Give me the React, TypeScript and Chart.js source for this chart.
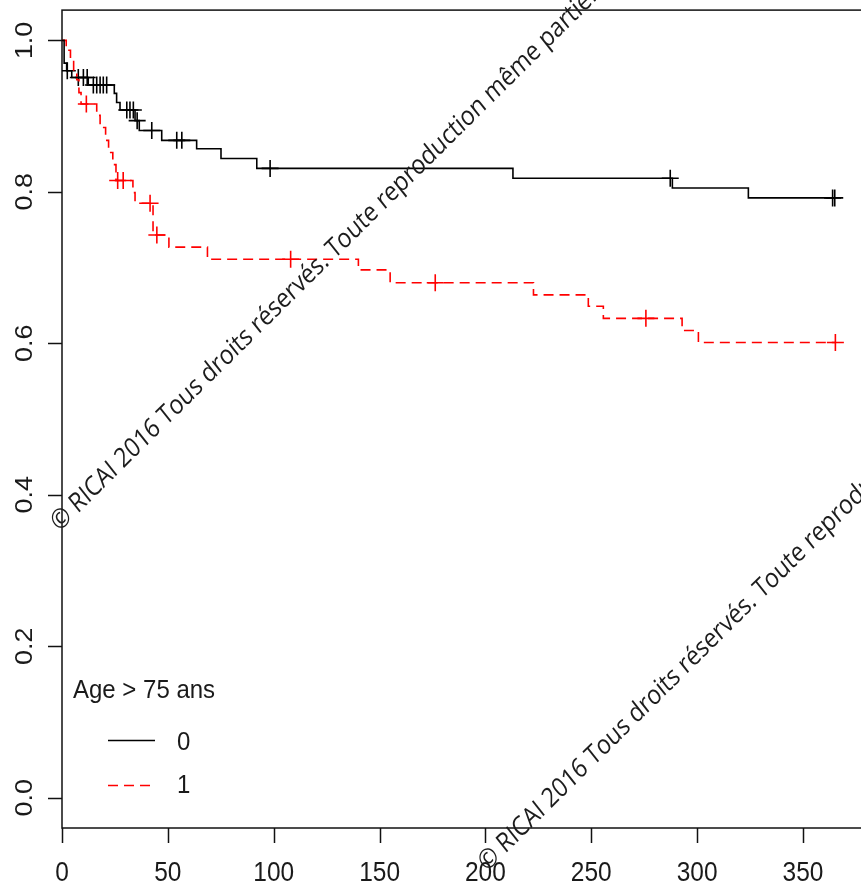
import React, { useEffect, useRef } from "react";
import { Chart, registerables } from "chart.js";

Chart.register(...registerables);

// ---- Data ----
const xTicks = [0, 50, 100, 150, 200, 250, 300, 350];
const xTickLabels = ["0", "50", "100", "150", "200", "250", "300", "350"];
const yTicks = [0, 0.2, 0.4, 0.6, 0.8, 1.0];
const yTickLabels = ["0.0", "0.2", "0.4", "0.6", "0.8", "1.0"];

const legendTitle = "Age > 75 ans";
const groupLabels = ["0", "1"];

// Group 0 (age <= 75): Kaplan-Meier step times / survival
const group0Times = [0, 1, 2.2, 4.6, 12.4, 24.7, 25.8, 27.4, 34.5, 36.5, 47.1, 63.6, 75.1, 92, 213, 288.3, 324.2, 364.5];
const group0Surv = [1, 0.97, 0.96, 0.951, 0.941, 0.93, 0.918, 0.908, 0.894, 0.881, 0.868, 0.857, 0.844, 0.831, 0.818, 0.805, 0.792, 0.792];
const group0Censor = [2.5, 7.7, 10.1, 11.9, 14.8, 16.4, 18, 19.5, 21.1, 30.6, 32.1, 33.7, 35.5, 42.4, 54.2, 56.6, 98.3, 287.3, 364, 365];

// Group 1 (age > 75)
const group1Times = [0, 2, 4, 5.5, 7, 8, 9, 16.4, 18, 20.6, 22, 24, 25.5, 33.5, 34.5, 43, 50.5, 68.7, 140, 155, 222.7, 248.6, 255.7, 292.9, 300.6, 365.3];
const group1Surv = [1, 0.987, 0.974, 0.961, 0.948, 0.931, 0.916, 0.901, 0.885, 0.868, 0.852, 0.836, 0.815, 0.799, 0.785, 0.743, 0.727, 0.711, 0.697, 0.68, 0.664, 0.649, 0.633, 0.617, 0.601, 0.601];
const group1Censor = [11.5, 26.3, 28.9, 41.6, 44.8, 108, 176.3, 275.8, 365.3];

const watermarkText = "© RICAI 2016 Tous droits réservés. Toute reproduction même partielle interdite.";
const watermarkRef = "© RICAI 2016 Tous droits réservés. Toute reproduction même part";

// ---- helpers ----
function stepPoints(times: number[], surv: number[]) {
  return times.map((t, i) => ({ x: t, y: surv[i] }));
}
function survAt(times: number[], surv: number[], t: number) {
  let s = surv[0];
  for (let i = 0; i < times.length; i++) if (times[i] <= t) s = surv[i];
  return s;
}
function censorPoints(times: number[], surv: number[], cens: number[]) {
  return cens.map((t) => ({ x: t, y: survAt(times, surv, t) }));
}

const SY = 1.1;
const WM_SY = 1.12;
const TXT = "Arial, Helvetica, sans-serif";
const WM = "'Open Sans', 'Noto Sans', sans-serif";
const WM_KX = 0.93;
const RED = "#ff0000";
const BLACK = "#000000";

const rPlotPlugin = {
  id: "rPlot",
  beforeDatasetsDraw(chart: any) {
    const { ctx, chartArea: a, scales } = chart;
    const xs = scales.x;
    const ys = scales.y;
    ctx.save();
    ctx.strokeStyle = "#111";
    ctx.lineWidth = 1.5;
    ctx.strokeRect(a.left, a.top, a.right - a.left, a.bottom - a.top);
    ctx.beginPath();
    yTicks.forEach((v) => {
      const y = Math.round(ys.getPixelForValue(v)) + 0.5;
      ctx.moveTo(a.left - 14, y);
      ctx.lineTo(a.left, y);
    });
    xTicks.forEach((v) => {
      const x = Math.round(xs.getPixelForValue(v)) + 0.5;
      ctx.moveTo(x, a.bottom);
      ctx.lineTo(x, a.bottom + 15);
    });
    ctx.stroke();

    ctx.fillStyle = "#1a1a1a";
    ctx.font = `normal 400 24.5px ${TXT}`;
    ctx.textAlign = "center";
    ctx.textBaseline = "alphabetic";
    xTicks.forEach((v, i) => {
      const x = xs.getPixelForValue(v);
      ctx.save();
      ctx.translate(x, a.bottom + 53);
      ctx.scale(1, SY);
      ctx.fillText(xTickLabels[i], 0, 0);
      ctx.restore();
    });
    yTicks.forEach((v, i) => {
      const y = ys.getPixelForValue(v);
      ctx.save();
      ctx.translate(a.left - 30.5, y);
      ctx.scale(1, SY);
      ctx.rotate(-Math.PI / 2);
      ctx.fillText(yTickLabels[i], 0, 0);
      ctx.restore();
    });
    ctx.restore();
  },
  afterDraw(chart: any) {
    const { ctx } = chart;
    ctx.save();
    // legend
    ctx.fillStyle = "#1a1a1a";
    ctx.font = `normal 400 24px ${TXT}`;
    ctx.textAlign = "left";
    ctx.textBaseline = "alphabetic";
    const drawText = (s: string, x: number, y: number) => {
      ctx.save();
      ctx.translate(x, y);
      ctx.scale(1, SY);
      ctx.fillText(s, 0, 0);
      ctx.restore();
    };
    drawText(legendTitle, 73, 698);
    drawText(groupLabels[0], 177, 750);
    drawText(groupLabels[1], 177, 793);
    ctx.lineWidth = 1.6;
    ctx.strokeStyle = BLACK;
    ctx.beginPath();
    ctx.moveTo(108, 740.5);
    ctx.lineTo(155, 740.5);
    ctx.stroke();
    ctx.strokeStyle = RED;
    ctx.setLineDash([10, 6]);
    ctx.beginPath();
    ctx.moveTo(108, 785.5);
    ctx.lineTo(155, 785.5);
    ctx.stroke();
    ctx.setLineDash([]);

    // watermark
    ctx.font = `normal 400 100px ${WM}`;
    const w100 = ctx.measureText(watermarkRef).width;
    const f = (100 * 695) / (w100 * WM_KX);
    ctx.font = `normal 400 ${f}px ${WM}`;
    const wc = ctx.measureText("©").width;
    ctx.fillStyle = "#1c1c1c";
    const ang = (-41.5 * Math.PI) / 180;
    const drawMark = (cx: number, cy: number) => {
      ctx.save();
      ctx.translate(cx, cy);
      ctx.scale(1, WM_SY);
      ctx.rotate(ang);
      ctx.scale(WM_KX, 1);
      ctx.fillText(watermarkText, -wc / 2, 0.36 * f);
      ctx.restore();
    };
    drawMark(60.5, 518);
    drawMark(488, 858);
    ctx.restore();
  },
};

export default function App() {
  const ref = useRef<HTMLCanvasElement | null>(null);
  useEffect(() => {
    if (!ref.current) return;
    const chart = new Chart(ref.current, {
      type: "line",
      data: {
        datasets: [
          {
            label: groupLabels[0],
            data: stepPoints(group0Times, group0Surv),
            borderColor: BLACK,
            borderWidth: 1.6,
            stepped: "before",
            pointRadius: 0,
            fill: false,
          },
          {
            label: groupLabels[1],
            data: stepPoints(group1Times, group1Surv),
            borderColor: RED,
            borderWidth: 1.6,
            borderDash: [10, 6],
            stepped: "before",
            pointRadius: 0,
            fill: false,
          },
          {
            label: "c0",
            data: censorPoints(group0Times, group0Surv, group0Censor),
            showLine: false,
            pointStyle: "cross",
            pointRadius: 8.5,
            borderColor: BLACK,
            pointBorderWidth: 1.6,
          },
          {
            label: "c1",
            data: censorPoints(group1Times, group1Surv, group1Censor),
            showLine: false,
            pointStyle: "cross",
            pointRadius: 8.5,
            borderColor: RED,
            pointBorderWidth: 1.6,
          },
        ],
      } as any,
      options: {
        responsive: false,
        animation: false,
        devicePixelRatio: 1,
        layout: { padding: { left: 62, top: 10, right: 13.5, bottom: 56 } },
        plugins: { legend: { display: false }, tooltip: { enabled: false } },
        scales: {
          x: { type: "linear", min: 0, max: 380, display: false },
          y: { type: "linear", min: -0.04, max: 1.04, display: false },
        },
      } as any,
      plugins: [rPlotPlugin],
    });
    return () => chart.destroy();
  }, []);
  return (
    <div style={{ position: "fixed", left: 0, top: 0, width: 861, height: 884, overflow: "hidden", background: "#fff" }}>
      <canvas ref={ref} width={880} height={884} style={{ display: "block" }} />
    </div>
  );
}
